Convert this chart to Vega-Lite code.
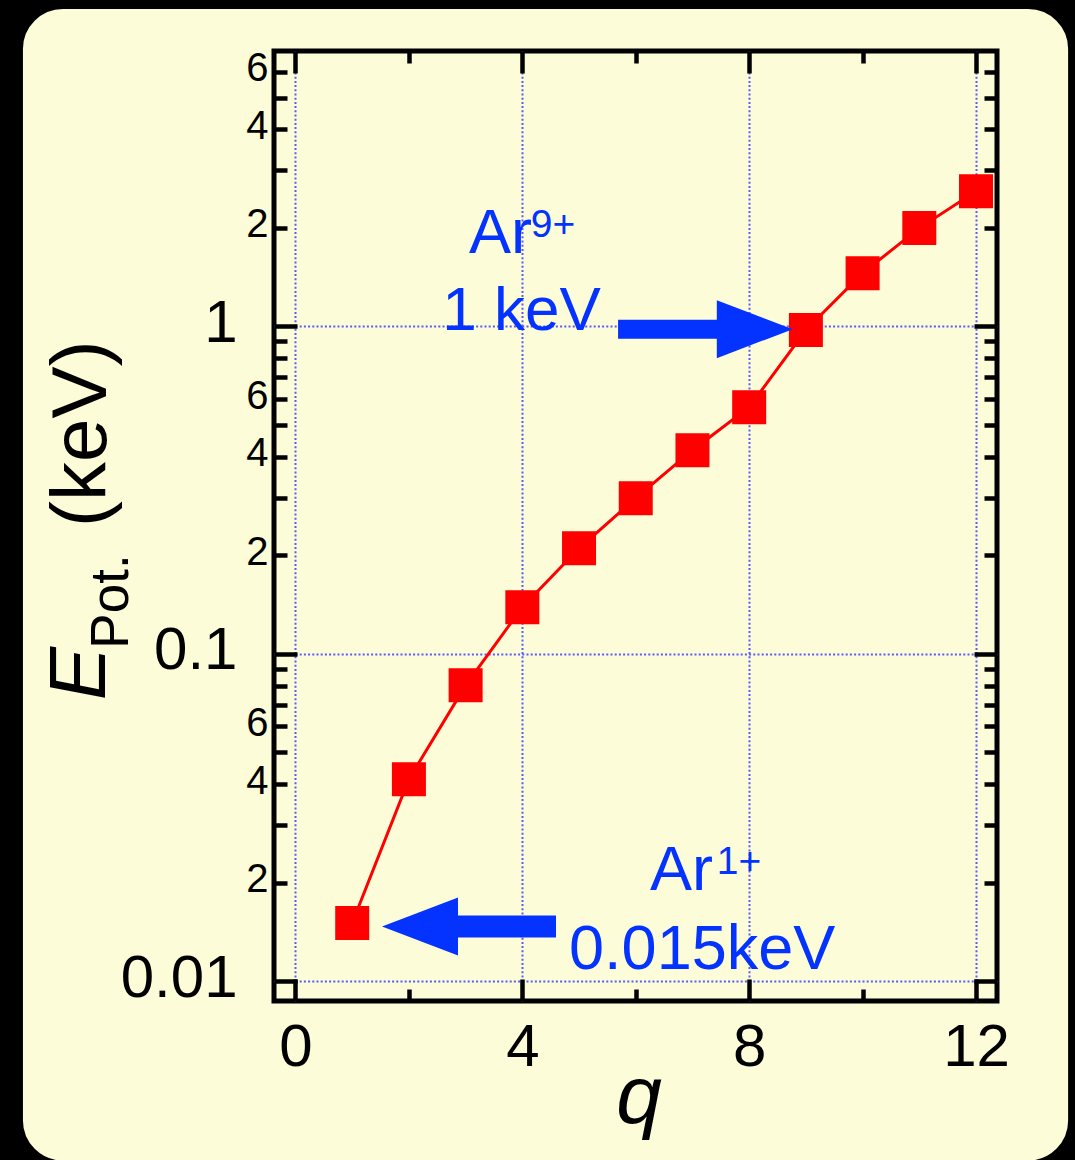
{
  "$schema": "https://vega.github.io/schema/vega-lite/v6.json",
  "width": 723,
  "height": 950,
  "autosize": {"type": "none"},
  "padding": {"left": 274, "top": 51, "right": 78, "bottom": 159},
  "background": "#fcfcd8",
  "config": {
    "view": {"stroke": "black", "strokeWidth": 5, "fill": null},
    "font": "Liberation Sans"
  },
  "data": {
    "values": [
      {"q": 1, "E": 0.01506},
      {"q": 2, "E": 0.0414},
      {"q": 3, "E": 0.0801},
      {"q": 4, "E": 0.1387},
      {"q": 5, "E": 0.2101},
      {"q": 6, "E": 0.2987},
      {"q": 7, "E": 0.4188},
      {"q": 8, "E": 0.5666},
      {"q": 9, "E": 0.975},
      {"q": 10, "E": 1.455},
      {"q": 11, "E": 1.997},
      {"q": 12, "E": 2.588}
    ]
  },
  "layer": [
    {
      "data": {"values": [{}]},
      "mark": {"type": "rect", "fill": "transparent", "stroke": "black", "strokeWidth": 60, "cornerRadius": 70},
      "encoding": {
        "x": {"datum": -5.335, "type": "quantitative", "scale": {"domain": [-0.379, 12.37], "nice": false, "zero": false}, "axis": null},
        "x2": {"datum": 14.153},
        "y": {"datum": 11.52, "type": "quantitative", "scale": {"type": "log", "domain": [0.0087, 6.94], "nice": false}, "axis": null},
        "y2": {"datum": 0.002293}
      }
    },
    {
      "mark": {"type": "line", "color": "#ff0000", "strokeWidth": 3},
      "encoding": {
        "x": {
          "field": "q", "type": "quantitative",
          "scale": {"domain": [-0.379, 12.37], "nice": false, "zero": false},
          "axis": {
            "orient": "bottom", "title": null, "domain": false,
            "values": [0, 2, 4, 6, 8, 10, 12],
            "labelExpr": "datum.value % 4 == 0 ? datum.label : ''",
            "labelFont": "Liberation Sans", "labelFontSize": 60, "labelColor": "black",
            "labelPadding": 39, "labelOverlap": false, "labelFlush": false, "labelBound": false,
            "tickColor": "black", "tickWidth": 4.5,
            "tickSize": {"condition": {"test": "datum.value % 4 == 0", "value": -22}, "value": -12},
            "grid": true, "gridColor": "#5a5aff", "gridWidth": 2, "gridDash": [2, 2.2],
            "gridOpacity": {"condition": {"test": "datum.value % 4 == 0", "value": 1}, "value": 0}
          }
        },
        "y": {
          "field": "E", "type": "quantitative",
          "scale": {"type": "log", "domain": [0.0087, 6.94], "nice": false},
          "axis": {
            "orient": "left", "title": null, "domain": false,
            "values": [0.01, 0.02, 0.03, 0.04, 0.05, 0.06, 0.07, 0.08, 0.09, 0.1, 0.2, 0.3, 0.4, 0.5, 0.6, 0.7, 0.8, 0.9, 1, 2, 3, 4, 5, 6],
            "labelExpr": "datum.value == 0.01 ? '0.01' : datum.value == 0.1 ? '0.1' : datum.value == 1 ? '1' : (datum.value == 0.02 || datum.value == 0.2 || datum.value == 2) ? '2' : (datum.value == 0.04 || datum.value == 0.4 || datum.value == 4) ? '4' : (datum.value == 0.06 || datum.value == 0.6 || datum.value == 6) ? '6' : ''",
            "labelFont": "Liberation Sans", "labelColor": "black",
            "labelFontSize": {"condition": {"test": "datum.value == 0.01 || datum.value == 0.1 || datum.value == 1", "value": 60}, "value": 40},
            "labelPadding": {"condition": {"test": "datum.value == 0.01 || datum.value == 0.1 || datum.value == 1", "value": 60}, "value": 19},
            "labelOffset": -3,
            "labelOverlap": false, "labelFlush": false, "labelBound": false,
            "tickColor": "black", "tickWidth": 4.5,
            "tickSize": {"condition": {"test": "datum.value == 0.01 || datum.value == 0.1 || datum.value == 1", "value": -23}, "value": -13},
            "grid": true, "gridColor": "#5a5aff", "gridWidth": 2, "gridDash": [2, 2.2],
            "gridOpacity": {"condition": {"test": "datum.value == 0.01 || datum.value == 0.1 || datum.value == 1", "value": 1}, "value": 0}
          }
        }
      }
    },
    {
      "mark": {"type": "point", "shape": "square", "filled": true, "size": 1156, "color": "#ff0000", "opacity": 1},
      "encoding": {
        "x": {
          "field": "q", "type": "quantitative",
          "scale": {"domain": [-0.379, 12.37], "nice": false, "zero": false},
          "axis": {
            "orient": "top", "title": null, "domain": false, "labels": false, "grid": false,
            "values": [0, 2, 4, 6, 8, 10, 12],
            "tickColor": "black", "tickWidth": 4.5,
            "tickSize": {"condition": {"test": "datum.value % 4 == 0", "value": -22}, "value": -12}
          }
        },
        "y": {
          "field": "E", "type": "quantitative",
          "scale": {"type": "log", "domain": [0.0087, 6.94], "nice": false},
          "axis": {
            "orient": "right", "title": null, "domain": false, "labels": false, "grid": false,
            "values": [0.01, 0.02, 0.03, 0.04, 0.05, 0.06, 0.07, 0.08, 0.09, 0.1, 0.2, 0.3, 0.4, 0.5, 0.6, 0.7, 0.8, 0.9, 1, 2, 3, 4, 5, 6],
            "tickColor": "black", "tickWidth": 4.5,
            "tickSize": {"condition": {"test": "datum.value == 0.01 || datum.value == 0.1 || datum.value == 1", "value": -23}, "value": -13}
          }
        }
      }
    },
    {
      "data": {"values": [{}]},
      "mark": {"type": "rule", "color": "#0433ff", "strokeWidth": 19, "strokeCap": "butt"},
      "encoding": {
        "x": {"datum": 5.688, "type": "quantitative", "scale": {"domain": [-0.379, 12.37], "nice": false, "zero": false}, "axis": null},
        "x2": {"datum": 7.486},
        "y": {"datum": 0.9812, "type": "quantitative", "scale": {"type": "log", "domain": [0.0087, 6.94], "nice": false}, "axis": null}
      }
    },
    {
      "data": {"values": [{}]},
      "mark": {"type": "point", "shape": "M-1,-0.763L1,0L-1,0.763Z", "filled": true, "size": 5776, "color": "#0433ff", "opacity": 1, "strokeWidth": 0},
      "encoding": {
        "x": {"datum": 8.099, "type": "quantitative", "scale": {"domain": [-0.379, 12.37], "nice": false, "zero": false}, "axis": null},
        "y": {"datum": 0.9812, "type": "quantitative", "scale": {"type": "log", "domain": [0.0087, 6.94], "nice": false}, "axis": null}
      }
    },
    {
      "data": {"values": [{}]},
      "mark": {"type": "rule", "color": "#0433ff", "strokeWidth": 22, "strokeCap": "butt"},
      "encoding": {
        "x": {"datum": 2.813, "type": "quantitative", "scale": {"domain": [-0.379, 12.37], "nice": false, "zero": false}, "axis": null},
        "x2": {"datum": 4.594},
        "y": {"datum": 0.01469, "type": "quantitative", "scale": {"type": "log", "domain": [0.0087, 6.94], "nice": false}, "axis": null}
      }
    },
    {
      "data": {"values": [{}]},
      "mark": {"type": "point", "shape": "M1,-0.763L-1,0L1,0.763Z", "filled": true, "size": 5776, "color": "#0433ff", "opacity": 1, "strokeWidth": 0},
      "encoding": {
        "x": {"datum": 2.196, "type": "quantitative", "scale": {"domain": [-0.379, 12.37], "nice": false, "zero": false}, "axis": null},
        "y": {"datum": 0.01469, "type": "quantitative", "scale": {"type": "log", "domain": [0.0087, 6.94], "nice": false}, "axis": null}
      }
    },
    {
      "data": {"values": [{}]},
      "mark": {"type": "text", "text": "Ar", "align": "left", "baseline": "alphabetic", "font": "Liberation Sans", "fontSize": 63, "color": "#0433ff"},
      "encoding": {
        "x": {"datum": 3.06, "type": "quantitative", "scale": {"domain": [-0.379, 12.37], "nice": false, "zero": false}, "axis": null},
        "y": {"datum": 1.679, "type": "quantitative", "scale": {"type": "log", "domain": [0.0087, 6.94], "nice": false}, "axis": null}
      }
    },
    {
      "data": {"values": [{}]},
      "mark": {"type": "text", "text": "9+", "align": "left", "baseline": "alphabetic", "font": "Liberation Sans", "fontSize": 39, "color": "#0433ff"},
      "encoding": {
        "x": {"datum": 4.15, "type": "quantitative", "scale": {"domain": [-0.379, 12.37], "nice": false, "zero": false}, "axis": null},
        "y": {"datum": 1.879, "type": "quantitative", "scale": {"type": "log", "domain": [0.0087, 6.94], "nice": false}, "axis": null}
      }
    },
    {
      "data": {"values": [{}]},
      "mark": {"type": "text", "text": "1 keV", "align": "left", "baseline": "alphabetic", "font": "Liberation Sans", "fontSize": 62, "color": "#0433ff"},
      "encoding": {
        "x": {"datum": 2.587, "type": "quantitative", "scale": {"domain": [-0.379, 12.37], "nice": false, "zero": false}, "axis": null},
        "y": {"datum": 0.974, "type": "quantitative", "scale": {"type": "log", "domain": [0.0087, 6.94], "nice": false}, "axis": null}
      }
    },
    {
      "data": {"values": [{}]},
      "mark": {"type": "text", "text": "Ar", "align": "left", "baseline": "alphabetic", "font": "Liberation Sans", "fontSize": 63, "color": "#0433ff"},
      "encoding": {
        "x": {"datum": 6.252, "type": "quantitative", "scale": {"domain": [-0.379, 12.37], "nice": false, "zero": false}, "axis": null},
        "y": {"datum": 0.01893, "type": "quantitative", "scale": {"type": "log", "domain": [0.0087, 6.94], "nice": false}, "axis": null}
      }
    },
    {
      "data": {"values": [{}]},
      "mark": {"type": "text", "text": "1+", "align": "left", "baseline": "alphabetic", "font": "Liberation Sans", "fontSize": 39, "color": "#0433ff"},
      "encoding": {
        "x": {"datum": 7.43, "type": "quantitative", "scale": {"domain": [-0.379, 12.37], "nice": false, "zero": false}, "axis": null},
        "y": {"datum": 0.02129, "type": "quantitative", "scale": {"type": "log", "domain": [0.0087, 6.94], "nice": false}, "axis": null}
      }
    },
    {
      "data": {"values": [{}]},
      "mark": {"type": "text", "text": "0.015keV", "align": "left", "baseline": "alphabetic", "font": "Liberation Sans", "fontSize": 63, "color": "#0433ff"},
      "encoding": {
        "x": {"datum": 4.824, "type": "quantitative", "scale": {"domain": [-0.379, 12.37], "nice": false, "zero": false}, "axis": null},
        "y": {"datum": 0.01091, "type": "quantitative", "scale": {"type": "log", "domain": [0.0087, 6.94], "nice": false}, "axis": null}
      }
    },
    {
      "data": {"values": [{}]},
      "mark": {"type": "text", "text": "E", "angle": 270, "align": "left", "baseline": "alphabetic", "font": "Liberation Sans", "fontStyle": "italic", "fontSize": 80, "color": "black"},
      "encoding": {
        "x": {"datum": -3.36, "type": "quantitative", "scale": {"domain": [-0.379, 12.37], "nice": false, "zero": false}, "axis": null},
        "y": {"datum": 0.0721, "type": "quantitative", "scale": {"type": "log", "domain": [0.0087, 6.94], "nice": false}, "axis": null}
      }
    },
    {
      "data": {"values": [{}]},
      "mark": {"type": "text", "text": "Pot.", "angle": 270, "align": "left", "baseline": "alphabetic", "font": "Liberation Sans", "fontSize": 53, "color": "black"},
      "encoding": {
        "x": {"datum": -2.96, "type": "quantitative", "scale": {"domain": [-0.379, 12.37], "nice": false, "zero": false}, "axis": null},
        "y": {"datum": 0.1037, "type": "quantitative", "scale": {"type": "log", "domain": [0.0087, 6.94], "nice": false}, "axis": null}
      }
    },
    {
      "data": {"values": [{}]},
      "mark": {"type": "text", "text": "(keV)", "angle": 270, "align": "left", "baseline": "alphabetic", "font": "Liberation Sans", "fontSize": 78, "color": "black"},
      "encoding": {
        "x": {"datum": -3.342, "type": "quantitative", "scale": {"domain": [-0.379, 12.37], "nice": false, "zero": false}, "axis": null},
        "y": {"datum": 0.2442, "type": "quantitative", "scale": {"type": "log", "domain": [0.0087, 6.94], "nice": false}, "axis": null}
      }
    },
    {
      "data": {"values": [{}]},
      "mark": {"type": "text", "text": "q", "align": "center", "baseline": "alphabetic", "font": "Liberation Sans", "fontStyle": "italic", "fontSize": 82, "color": "black"},
      "encoding": {
        "x": {"datum": 6.058, "type": "quantitative", "scale": {"domain": [-0.379, 12.37], "nice": false, "zero": false}, "axis": null},
        "y": {"datum": 0.0037, "type": "quantitative", "scale": {"type": "log", "domain": [0.0087, 6.94], "nice": false}, "axis": null}
      }
    }
  ],
  "resolve": {"axis": {"x": "independent", "y": "independent"}}
}
